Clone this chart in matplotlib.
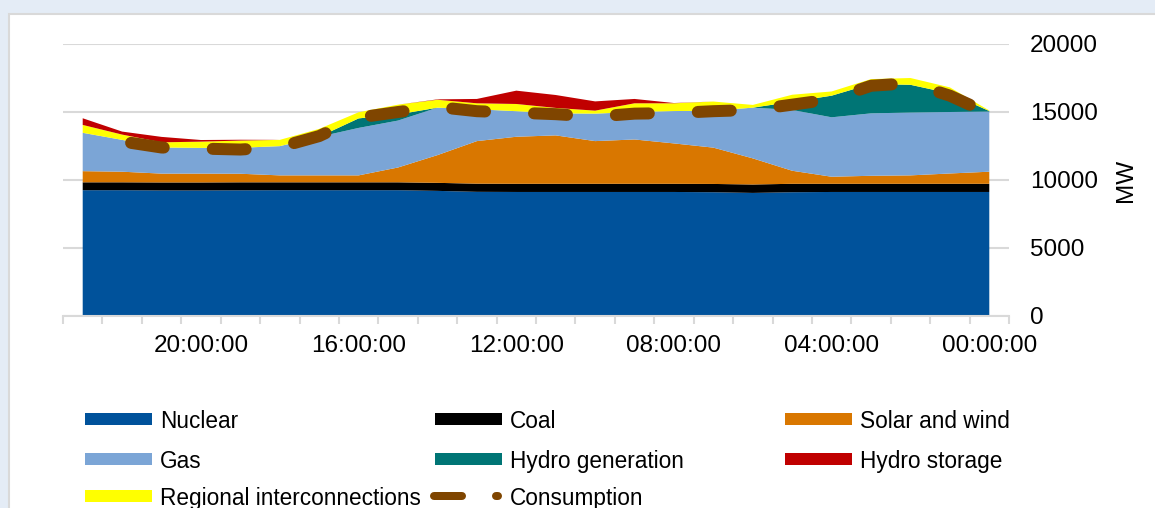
import matplotlib
matplotlib.use("Agg")
import matplotlib.pyplot as plt
import numpy as np
from matplotlib.patches import Rectangle
from matplotlib.lines import Line2D

plt.rcParams['font.family'] = ['Liberation Sans', 'DejaVu Sans']
plt.rcParams['lines.scale_dashes'] = False

# categories as shown on the (reversed) axis, left to right
hours = [f"{h:02d}:00:00" for h in range(23, -1, -1)]

# MW, stacked bottom to top
nuclear = [9250, 9250, 9230, 9230, 9240, 9250, 9250, 9250, 9250, 9200, 9130, 9120,
           9120, 9120, 9120, 9120, 9100, 9050, 9100, 9120, 9120, 9120, 9120, 9120]
coal = [580, 580, 590, 590, 590, 580, 580, 580, 580, 590, 600, 600,
        600, 600, 600, 600, 610, 620, 620, 600, 600, 600, 600, 600]
solar_wind = [820, 780, 650, 650, 630, 510, 510, 510, 1090, 2040, 3130, 3460,
              3560, 3140, 3260, 2970, 2670, 1920, 960, 520, 590, 620, 760, 890]
gas = [2820, 2340, 1920, 1890, 1910, 2150, 2840, 3490, 3450, 3490, 2340, 1880,
       1620, 2020, 2020, 2380, 2710, 3730, 4470, 4370, 4590, 4620, 4520, 4420]
hydro_gen = [0, 0, 0, 0, 0, 0, 0, 700, 450, 0, 0, 0,
             0, 0, 0, 0, 0, 0, 600, 1590, 2160, 2040, 1370, 40]
regional = [580, 390, 380, 460, 530, 460, 580, 450, 720, 580, 440, 530,
            400, 220, 640, 570, 680, 200, 520, 310, 360, 500, 440, 40]
hydro_storage = [490, 220, 400, 120, 60, 0, 0, 0, 0, 30, 320, 980,
                 950, 680, 320, 20, 0, 0, 0, 0, 0, 0, 0, 0]
consumption = [13300, 12830, 12390, 12310, 12240, 12420, 13230, 14590, 15000, 15370, 15060, 14950,
               14840, 14660, 14880, 14920, 15060, 15150, 15540, 15940, 16930, 17120, 16200, 14880]

C_NUC = '#00529B'
C_COAL = '#000000'
C_SOLAR = '#D97700'
C_GAS = '#7BA5D6'
C_HYDRO = '#007575'
C_REG = '#FFFF00'
C_STO = '#C00000'
C_CONS = '#7F4500'

W, H = 1155, 508
fig = plt.figure(figsize=(W / 100, H / 100), dpi=100)
fig.patch.set_facecolor('#E4ECF6')
fig.patches.append(Rectangle((9 / W, -0.1), 1.0, 1.1 - 14 / H, transform=fig.transFigure,
                             facecolor='white', edgecolor='#D9D9D9', lw=1.5, zorder=-5))

ax = fig.add_axes([63 / W, (H - 316) / H, (1009 - 63) / W, (316 - 44) / H])
ax.set_zorder(2)
ax.set_facecolor('none')

x = np.arange(len(hours))
ax.stackplot(x, nuclear, coal, solar_wind, gas, hydro_gen, regional, hydro_storage,
             colors=[C_NUC, C_COAL, C_SOLAR, C_GAS, C_HYDRO, C_REG, C_STO], linewidth=0, zorder=2)

px = 0.72  # points per pixel
ax.plot(x, consumption, color=C_CONS, lw=12 * px, ls=(33 * px, (33 * px, 49 * px)),
        dash_capstyle='round', zorder=5)

ax.set_xlim(-0.5, len(hours) - 0.5)
ax.set_ylim(0, 20000)
ax.set_yticks(range(0, 20001, 5000))
ax.yaxis.tick_right()
ax.yaxis.set_label_position('right')
ax.set_ylabel('MW', fontsize=17.5, labelpad=12)
ax.tick_params(axis='y', length=0, pad=15, labelsize=17.5)
ax.grid(axis='y', color='#D9D9D9', lw=1.5)
ax.set_axisbelow(True)
for s in ['top', 'left', 'right']:
    ax.spines[s].set_visible(False)
ax.spines['bottom'].set_color('#D9D9D9')
ax.spines['bottom'].set_linewidth(1.5)

ax.set_xticks(x[3::4])
ax.set_xticklabels([hours[i] for i in x[3::4]])
ax.set_xticks(np.arange(-0.5, len(hours), 1), minor=True)
ax.tick_params(axis='x', which='major', length=0, pad=14, labelsize=17.5)
ax.tick_params(axis='x', which='minor', length=6, width=1.5, color='#D9D9D9')

# legend laid out by hand like the original
def fx(p):
    return p / W

def fy(p):
    return 1 - p / H

rows = [419, 459, 496]
hx = [85, 435, 785]
tx = [160, 510, 860]
entries = [('Nuclear', C_NUC, 0, 0), ('Coal', C_COAL, 0, 1), ('Solar and wind', C_SOLAR, 0, 2),
           ('Gas', C_GAS, 1, 0), ('Hydro generation', C_HYDRO, 1, 1), ('Hydro storage', C_STO, 1, 2),
           ('Regional interconnections', C_REG, 2, 0)]
for label, color, r, c in entries:
    fig.patches.append(Rectangle((fx(hx[c]), fy(rows[r] + 6)), 67 / W, 12 / H,
                                 transform=fig.transFigure, facecolor=color, lw=0))
    fig.text(fx(tx[c]), fy(rows[r]), label, fontsize=16.3, va='center_baseline', ha='left')

fig.add_artist(Line2D([fx(434), fx(498)], [fy(496), fy(496)], transform=fig.transFigure,
                      color=C_CONS, lw=8 * px, ls=(0, (28 * px, 34 * px)), dash_capstyle='round'))
fig.text(fx(510), fy(496), 'Consumption', fontsize=16.3, va='center_baseline', ha='left')

fig.savefig('out.png', dpi=100, facecolor=fig.get_facecolor())
